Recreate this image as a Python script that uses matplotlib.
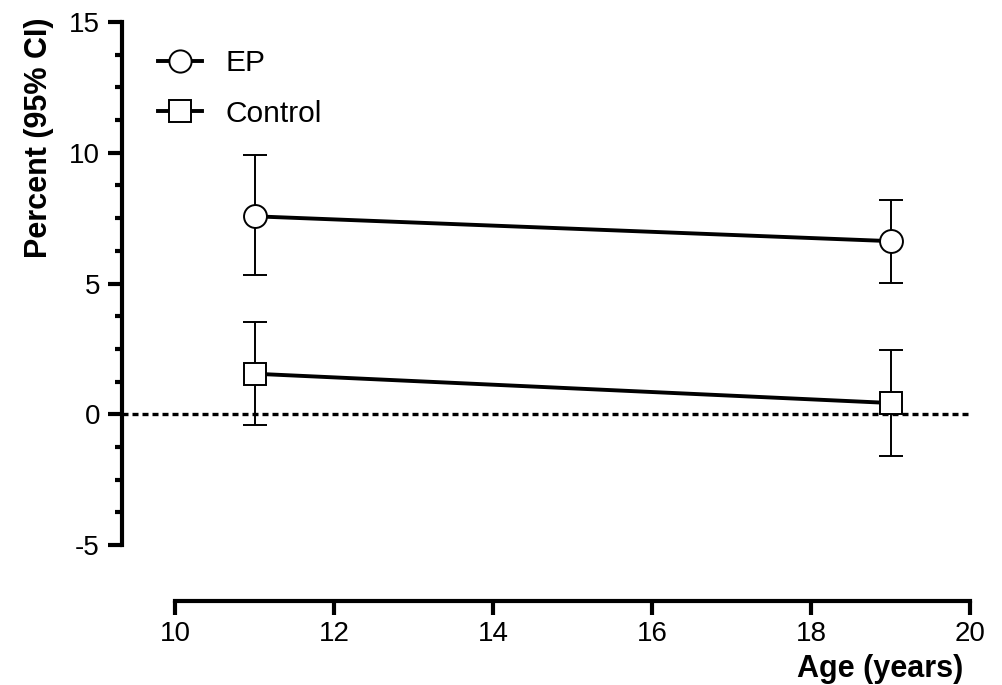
import matplotlib
matplotlib.use('Agg')
import matplotlib.pyplot as plt
from matplotlib.lines import Line2D
from matplotlib.ticker import FuncFormatter

plt.rcParams['font.family'] = ['Liberation Sans', 'DejaVu Sans']

# Edad de seguimiento y porcentajes con IC 95%
ages = [11, 19]
ep_mean = [7.57, 6.62]
ep_low = [5.31, 5.02]
ep_high = [9.93, 8.18]
ctrl_mean = [1.55, 0.43]
ctrl_low = [-0.42, -1.61]
ctrl_high = [3.54, 2.45]

x_ticks = [10, 12, 14, 16, 18, 20]
y_ticks = [-5, 0, 5, 10, 15]

fig = plt.figure(figsize=(10.02, 6.85), dpi=100)
ax = fig.add_axes([175 / 1002, 140 / 685, 795 / 1002, 523 / 685])

def dibujar(media, bajo, alto, marcador):
    yerr = [[m - b for m, b in zip(media, bajo)], [a - m for m, a in zip(media, alto)]]
    # barras de error finas
    ax.errorbar(ages, media, yerr=yerr, fmt='none', ecolor='black',
                elinewidth=1.4, capsize=8.6, capthick=1.4, zorder=3)
    # línea gruesa con marcadores blancos
    ax.plot(ages, media, color='black', lw=2.8, marker=marcador, ms=16.5,
            mfc='white', mec='black', mew=1.4, zorder=4)

dibujar(ep_mean, ep_low, ep_high, 'o')
dibujar(ctrl_mean, ctrl_low, ctrl_high, 's')

# línea de referencia en cero, desde el eje y desplazado
ax.axhline(0, xmin=-53 / 795, xmax=1.003, color='black', lw=2.4,
           linestyle=(0, (1.8, 1.2)), clip_on=False, zorder=2)

ax.set_xlim(10, 20)
ax.set_ylim(-5, 15)
ax.set_xticks(x_ticks)
ax.set_yticks(y_ticks)
ax.set_yticks([y + 1.25 * k for y in y_ticks[:-1] for k in (1, 2, 3)], minor=True)
ax.yaxis.set_major_formatter(FuncFormatter(lambda v, p: '%d' % v))

for side in ['top', 'right']:
    ax.spines[side].set_visible(False)
ax.spines['left'].set_position(('outward', 38))
ax.spines['bottom'].set_position(('outward', 40))
ax.spines['left'].set_linewidth(3)
ax.spines['bottom'].set_linewidth(3)
ax.spines['left'].set_capstyle('projecting')
ax.spines['bottom'].set_capstyle('projecting')

ax.tick_params(axis='both', which='major', length=10, width=3, labelsize=20)
ax.tick_params(axis='y', which='minor', length=5, width=3)
ax.tick_params(axis='y', which='major', pad=6)
ax.tick_params(axis='x', which='major', pad=5)

ax.set_ylabel('Percent (95% CI)', fontsize=22, fontweight='bold')
ax.yaxis.set_label_coords(-0.152, 0.778)
ax.set_xlabel('Age (years)', fontsize=22, fontweight='bold', ha='right')
ax.xaxis.set_label_coords(0.9915, -0.208)

handles = [
    Line2D([], [], color='black', lw=2.8, marker='o', ms=16, mfc='white', mec='black', mew=1.4),
    Line2D([], [], color='black', lw=2.8, marker='s', ms=16, mfc='white', mec='black', mew=1.4),
]
ax.legend(handles, ['EP', 'Control'], loc='upper left', bbox_to_anchor=(-0.021, 0.948),
          frameon=False, fontsize=21.5, handlelength=1.47, handletextpad=0.77,
          labelspacing=0.75, borderpad=0, borderaxespad=0)

plt.savefig('out.png', dpi=100)
